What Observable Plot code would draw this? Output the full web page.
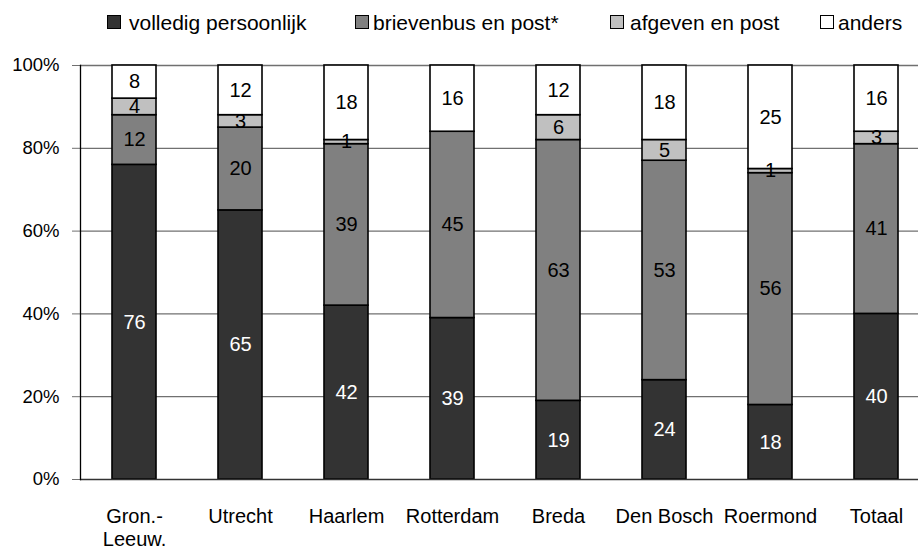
<!DOCTYPE html>
<html>
<head>
<meta charset="utf-8">
<script src="https://cdn.jsdelivr.net/npm/d3@7"></script>
<script src="https://cdn.jsdelivr.net/npm/@observablehq/plot@0.6"></script>
<style>
  body { margin: 0; background: #fff; }
  #wrap { width: 918px; height: 553px; position: relative; font-family: "Liberation Sans", Arial, sans-serif; }
  #legend { position: relative; width: 918px; height: 36px; }
  .sw { position: absolute; top: 15px; width: 12px; height: 12px; border: 1.5px solid #000; }
  .lab { position: absolute; top: 11px; font-size: 21px; line-height: 24px; white-space: nowrap; color: #000; }
</style>
</head>
<body>
<div id="wrap">
  <div id="legend"></div>
  <div id="chart"></div>
</div>
<script>
const categories = ["Gron.-\nLeeuw.", "Utrecht", "Haarlem", "Rotterdam", "Breda", "Den Bosch", "Roermond", "Totaal"];
const series = ["volledig persoonlijk", "brievenbus en post*", "afgeven en post", "anders"];
const volledig = [76, 65, 42, 39, 19, 24, 18, 40];
const brievenbus = [12, 20, 39, 45, 63, 53, 56, 41];
const afgeven = [4, 3, 1, 0, 6, 5, 1, 3];
const anders = [8, 12, 18, 16, 12, 18, 25, 16];
const yTicks = [0, 20, 40, 60, 80, 100];
const colors = ["#333333", "#808080", "#c0c0c0", "#ffffff"];

const seriesValues = [volledig, brievenbus, afgeven, anders];
const data = categories.flatMap((c, i) => series.map((s, j) => ({cat: c, series: s, value: seriesValues[j][i]})));

// legend
const legendPos = [[107, 129], [355, 373], [610, 630], [820, 838]];
const legend = document.getElementById("legend");
series.forEach((s, j) => {
  const sw = document.createElement("div");
  sw.className = "sw";
  sw.style.left = legendPos[j][0] + "px";
  sw.style.background = colors[j];
  legend.appendChild(sw);
  const lab = document.createElement("div");
  lab.className = "lab";
  lab.style.left = legendPos[j][1] + "px";
  lab.textContent = s;
  legend.appendChild(lab);
});

const chart = Plot.plot({
  width: 918,
  height: 517,
  marginTop: 29,
  marginBottom: 74,
  marginLeft: 80,
  marginRight: 0,
  style: {fontFamily: "'Liberation Sans', Arial, sans-serif", fontSize: "20px", color: "#000", background: "#fff"},
  x: {domain: categories, range: [80, 930], paddingInner: 0.586, paddingOuter: 0.293, label: null},
  y: {domain: [0, 100], label: null},
  color: {domain: series, range: colors},
  marks: [
    Plot.ruleY(yTicks.filter(d => d > 0), {stroke: "#707070", strokeWidth: 1.3}),
    Plot.axisY({ticks: yTicks, tickFormat: d => d + "%", tickSize: 8, tickPadding: 13, stroke: "#707070", fontSize: 18.5, label: null}),
    Plot.axisX({tickSize: 0, tickPadding: 27, fontSize: 20, lineHeight: 1.15, label: null}),
    Plot.barY(data, {x: "cat", y: "value", fill: "series", stroke: "#000", strokeWidth: 1.6}),
    Plot.text(data, Plot.stackY({x: "cat", y: "value", text: d => d.series === series[0] ? String(d.value) : null, fill: "white", fontSize: 20})),
    Plot.text(data, Plot.stackY({x: "cat", y: "value", text: d => (d.series !== series[0] && d.value > 0) ? String(d.value) : null, fill: "black", fontSize: 20})),
    Plot.ruleY([0], {stroke: "#333", strokeWidth: 1.5}),
    Plot.frame({anchor: "left", stroke: "#000", strokeWidth: 1.3})
  ]
});
document.getElementById("chart").appendChild(chart);
</script>
</body>
</html>
